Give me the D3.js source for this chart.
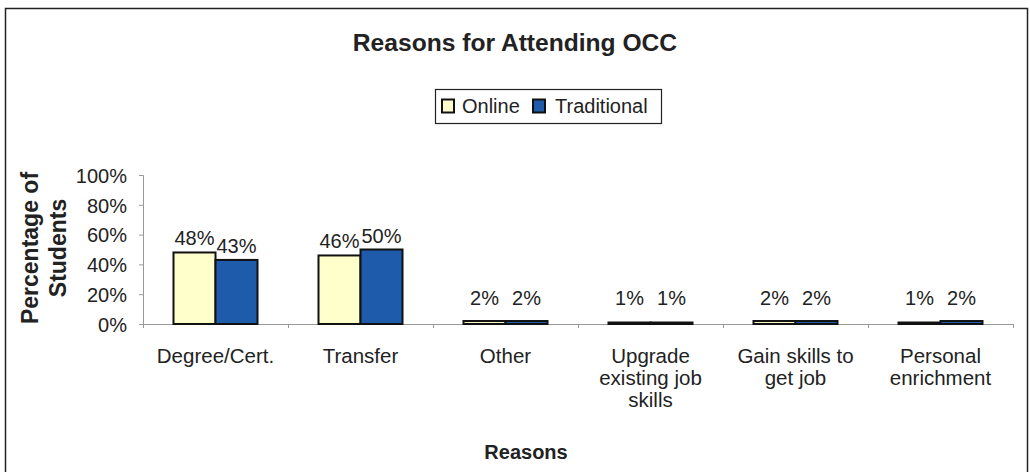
<!DOCTYPE html>
<html><head><meta charset="utf-8">
<script src="https://cdn.jsdelivr.net/npm/d3@7/dist/d3.min.js"></script>
<style>
html,body{margin:0;padding:0;background:#fff;}
svg{display:block;font-family:"Liberation Sans",Arial,sans-serif;}
</style></head>
<body>
<svg id="c" width="1030" height="472"></svg>
<script>
const categories = ["Degree/Cert.", "Transfer", "Other", "Upgrade existing job skills", "Gain skills to get job", "Personal enrichment"];
const categoryLines = [["Degree/Cert."], ["Transfer"], ["Other"], ["Upgrade", "existing job", "skills"], ["Gain skills to", "get job"], ["Personal", "enrichment"]];
const seriesNames = ["Online", "Traditional"];
const online = [48, 46, 2, 1, 2, 1];
const traditional = [43, 50, 2, 1, 2, 2];
const yTicks = [0, 20, 40, 60, 80, 100];
const colors = ["#FFFFCC", "#1E5BAA"];

(function(){
const svg = d3.select("#c");
svg.append("rect").attr("x",5.5).attr("y",8.5).attr("width",1022).attr("height",480)
  .attr("fill","none").attr("stroke","#222").attr("stroke-width",1.5);

const pL = 143, pR = 1013, pT = 175, pB = 324;
const x0 = d3.scaleBand().domain(categories).range([pL, pR]).paddingInner(0).paddingOuter(0);
const x1 = d3.scaleBand().domain(seriesNames).range([0, 84]);
const y = d3.scaleLinear().domain([0, 100]).range([pB, pT]);

const yAxis = d3.axisLeft(y).tickValues(yTicks).tickFormat(d => d + "%").tickSize(4).tickPadding(12);
const gy = svg.append("g").attr("transform", `translate(${pL},0)`).call(yAxis);
gy.select(".domain").attr("stroke","#999");
gy.selectAll(".tick line").attr("stroke","#999");
gy.selectAll(".tick text").attr("font-size",20).attr("fill","#222").attr("dy","0.36em")
  .attr("font-family","Liberation Sans, Arial, sans-serif");

const xAxis = d3.axisBottom(d3.scaleLinear().domain([0,6]).range([pL,pR])).tickValues(d3.range(0,7)).tickSize(4).tickFormat("");
const gx = svg.append("g").attr("transform", `translate(0,${pB})`).call(xAxis);
gx.select(".domain").attr("stroke","#999");
gx.selectAll(".tick line").attr("stroke","#999");

const data = categories.map((c,i)=>({cat:c, vals:[{s:"Online",v:online[i]},{s:"Traditional",v:traditional[i]}]}));
const groups = svg.append("g").selectAll("g").data(data).join("g")
  .attr("transform", d => `translate(${x0(d.cat) + (x0.bandwidth()-84)/2},0)`);
groups.selectAll("rect").data(d=>d.vals).join("rect")
  .attr("x", d => x1(d.s)).attr("width", x1.bandwidth())
  .attr("y", d => y(d.v)).attr("height", d => pB - y(d.v))
  .attr("fill", (d,i) => colors[i]).attr("stroke","#111").attr("stroke-width",2);
groups.selectAll("text").data(d=>d.vals).join("text")
  .attr("x", d => x1(d.s) + x1.bandwidth()/2)
  .attr("y", d => Math.min(y(d.v) - 7, pB - 19))
  .attr("text-anchor","middle").attr("font-size",20).attr("fill","#222")
  .text(d => d.v + "%");

const cl = svg.append("g").selectAll("text").data(categories).join("text")
  .attr("x", d => x0(d) + x0.bandwidth()/2).attr("y", 363)
  .attr("text-anchor","middle").attr("font-size",20.5).attr("fill","#222");
cl.selectAll("tspan").data((d,i)=>categoryLines[i]).join("tspan")
  .attr("x", function(){ return this.parentNode.getAttribute("x"); })
  .attr("dy", (d,i)=> i===0 ? 0 : 22).text(d=>d);

svg.append("text").attr("x",515).attr("y",51).attr("text-anchor","middle")
  .attr("font-size",24.6).attr("font-weight","bold").attr("fill","#222").text("Reasons for Attending OCC");

svg.append("text").attr("x",526).attr("y",459).attr("text-anchor","middle")
  .attr("font-size",20).attr("font-weight","bold").attr("fill","#222").text("Reasons");

const yt = svg.append("text").attr("transform","translate(38,248) rotate(-90)").attr("text-anchor","middle")
  .attr("font-size",23).attr("font-weight","bold").attr("fill","#222");
yt.append("tspan").attr("x",0).attr("dy",0).text("Percentage of");
yt.append("tspan").attr("x",0).attr("dy",28).text("Students");

const lg = svg.append("g");
lg.append("rect").attr("x",435.5).attr("y",89.5).attr("width",226).attr("height",34)
  .attr("fill","#fff").attr("stroke","#222").attr("stroke-width",1.2);
const items = [{n:"Online", x:442, tx:462, c:colors[0]}, {n:"Traditional", x:533, tx:555, c:colors[1]}];
const li = lg.selectAll("g").data(items).join("g").attr("transform", d=>`translate(${d.x},99.5)`);
li.append("rect").attr("width",12).attr("height",13).attr("fill",d=>d.c).attr("stroke","#111").attr("stroke-width",2);
li.append("text").attr("x",d=>d.tx-d.x).attr("y",13.5).attr("font-size",20).attr("fill","#222").text(d=>d.n);
})();
</script>
</body></html>
